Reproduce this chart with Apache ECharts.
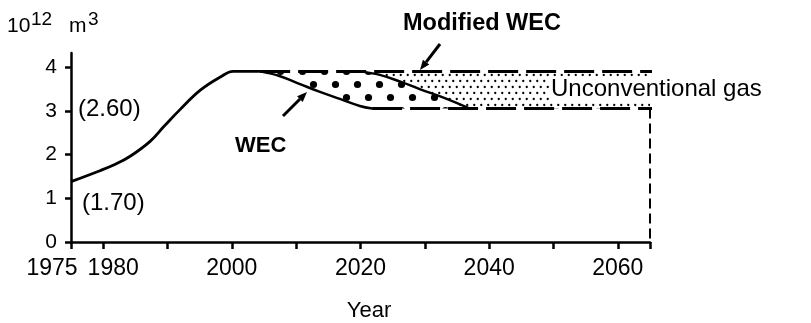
<!DOCTYPE html>
<html>
<head>
<meta charset="utf-8">
<script src="https://cdn.jsdelivr.net/npm/echarts@6/dist/echarts.min.js"></script>
<style>
html,body{margin:0;padding:0;background:#fff;}
#chart{width:811px;height:323px;}
</style>
</head>
<body>
<div id="chart"></div>
<script>
// ---- data ----
const mainYears = [1975, 1979.5, 1981.8, 1984.2, 1987.3, 1989.5, 1991.9, 1995.1, 1998.2, 2000.2, 2004.4];
const mainGas   = [1.38, 1.63, 1.77, 1.96, 2.30, 2.65, 3.02, 3.47, 3.77, 3.90, 3.90];
const wecYears  = [2004.4, 2007.5, 2010.6, 2013.7, 2016.8, 2019.9, 2021.8];
const wecGas    = [3.90, 3.79, 3.61, 3.43, 3.27, 3.11, 3.05];
const modYears  = [2019.9, 2023.0, 2026.1, 2029.3, 2033.1, 2037.0];
const modGas    = [3.90, 3.82, 3.67, 3.49, 3.29, 3.05];
const upperLevel = 3.90;
const lowerLevel = 3.05;
const endYear = 2065;
const lowerDashEnd = 2066;
const farYear = 2090;
const xTickValues  = [1975, 1980, 1990, 2000, 2010, 2020, 2030, 2040, 2050, 2060, 2065];
const xLabelValues = [2000, 2020, 2040, 2060];
const xLabelFirst  = [1975];
const xLabelSecond = [1980];
const yTickValues  = [0, 1, 2, 3, 4];

const zip = (xs, ys) => xs.map((x, i) => [x, ys[i]]);
const FONT = '"Liberation Sans", Arial, sans-serif';
const SMOOTH = 0.4;

function makePattern(w, h, dots, r) {
  const c = document.createElement('canvas');
  c.width = w; c.height = h;
  const ctx = c.getContext('2d');
  ctx.fillStyle = '#fff';
  ctx.fillRect(0, 0, w, h);
  ctx.fillStyle = '#000';
  dots.forEach(([x, y]) => { ctx.beginPath(); ctx.arc(x, y, r, 0, Math.PI * 2); ctx.fill(); });
  return c;
}
const bigDots = makePattern(22, 26, [[5.5, 6.5], [16.5, 19.5]], 3.6);
const smallDots = makePattern(7, 12, [[1.75, 3], [5.25, 9]], 1.15);

const mainData = zip(mainYears, mainGas);
const wecData = zip(wecYears, wecGas);
const modData = zip(modYears, modGas);
const smallArea = [[wecYears[0], upperLevel], [farYear, upperLevel]];
const bigArea = [[wecYears[0], upperLevel]].concat(modData, [[farYear, lowerLevel]]);
// white mask under the whole lower envelope (main curve, WEC, then the lower level)
const maskArea = mainData.concat(wecData.slice(1), [[farYear, lowerLevel]]);

const base = { type: 'line', symbol: 'none', silent: true, clip: false, animation: false };

const labelAxis = (values, formatter, rich) => ({
  type: 'value', min: 1975, max: endYear, position: 'bottom', offset: 0, z: 10,
  axisLine: { show: false }, axisTick: { show: false }, splitLine: { show: false },
  axisLabel: {
    customValues: values, color: '#000', fontSize: 23, fontFamily: FONT, margin: 15,
    showMinLabel: true, showMaxLabel: true, formatter: formatter, rich: rich
  }
});

const chart = echarts.init(document.getElementById('chart'));
chart.setOption({
  animation: false,
  grid: { left: 71, right: 161, top: 53, bottom: 81 },
  xAxis: [
    {
      type: 'value', min: 1975, max: endYear, z: 10,
      axisLine: { show: true, lineStyle: { color: '#000', width: 2.5 } },
      axisTick: { show: true, customValues: xTickValues, length: 7, lineStyle: { color: '#000', width: 2.5 } },
      splitLine: { show: false },
      axisLabel: { customValues: xLabelValues, color: '#000', fontSize: 23, fontFamily: FONT, margin: 15,
        formatter: v => String(v) }
    },
    labelAxis(xLabelFirst, v => '{t|' + v + '}{gap|}', {
      t: { fontSize: 23, fontFamily: FONT, color: '#000' }, gap: { width: 38, fontSize: 23 } }),
    labelAxis(xLabelSecond, v => '{gap|}{t|' + v + '}', {
      t: { fontSize: 23, fontFamily: FONT, color: '#000' }, gap: { width: 20, fontSize: 23 } })
  ],
  yAxis: {
    type: 'value', min: 0, max: 4.32, z: 10,
    axisLine: { show: true, lineStyle: { color: '#000', width: 2.5 } },
    axisTick: { show: true, customValues: yTickValues, length: 6, lineStyle: { color: '#000', width: 2.5 } },
    splitLine: { show: false },
    axisLabel: { customValues: yTickValues, color: '#000', fontSize: 21, fontFamily: FONT, margin: 14, showMinLabel: true }
  },
  series: [
    Object.assign({}, base, { name: 'Unconventional gas', data: smallArea, z: 1,
      lineStyle: { width: 0 }, areaStyle: { color: { image: smallDots, repeat: 'repeat' }, opacity: 1 } }),
    Object.assign({}, base, { name: 'WEC-Modified gap', data: bigArea, z: 2, smooth: SMOOTH,
      lineStyle: { width: 0 }, areaStyle: { color: { image: bigDots, repeat: 'repeat' }, opacity: 1 } }),
    Object.assign({}, base, { name: 'mask', data: maskArea, z: 3, smooth: SMOOTH,
      lineStyle: { width: 0 }, areaStyle: { color: '#fff', opacity: 1 } }),
    Object.assign({}, base, { name: 'upper', data: smallArea, z: 5,
      lineStyle: { color: '#000', width: 3, type: [30, 8] } }),
    Object.assign({}, base, { name: 'lower', data: [[wecYears[wecYears.length - 1], lowerLevel], [lowerDashEnd, lowerLevel]], z: 5,
      lineStyle: { color: '#000', width: 3, type: [30, 8] } }),
    Object.assign({}, base, { name: 'end', data: [[endYear, lowerLevel], [endYear, 0]], z: 5,
      lineStyle: { color: '#000', width: 2, type: [10, 5] } }),
    Object.assign({}, base, { name: 'Gas', data: mainData, z: 6, smooth: SMOOTH,
      lineStyle: { color: '#000', width: 2.8 } }),
    Object.assign({}, base, { name: 'WEC', data: wecData, z: 6, smooth: SMOOTH,
      lineStyle: { color: '#000', width: 2.5 } }),
    Object.assign({}, base, { name: 'Modified WEC', data: modData, z: 6, smooth: SMOOTH,
      lineStyle: { color: '#000', width: 2.5 } })
  ],
  graphic: [
    { type: 'text', x: 7, y: 26.5, z: 100, style: { text: '10', fontSize: 21, fontFamily: FONT, fill: '#000', verticalAlign: 'middle' } },
    { type: 'text', x: 31, y: 19.5, z: 100, style: { text: '12', fontSize: 19, fontFamily: FONT, fill: '#000', verticalAlign: 'middle' } },
    { type: 'text', x: 69, y: 26.5, z: 100, style: { text: 'm', fontSize: 21, fontFamily: FONT, fill: '#000', verticalAlign: 'middle' } },
    { type: 'text', x: 88, y: 19.5, z: 100, style: { text: '3', fontSize: 19, fontFamily: FONT, fill: '#000', verticalAlign: 'middle' } },
    { type: 'text', x: 78, y: 109.5, z: 100, style: { text: '(2.60)', fontSize: 24, fontFamily: FONT, fill: '#000', verticalAlign: 'middle' } },
    { type: 'text', x: 82, y: 203, z: 100, style: { text: '(1.70)', fontSize: 24, fontFamily: FONT, fill: '#000', verticalAlign: 'middle' } },
    { type: 'text', x: 235, y: 146, z: 100, style: { text: 'WEC', fontSize: 22, fontWeight: 'bold', fontFamily: FONT, fill: '#000', verticalAlign: 'middle' } },
    { type: 'text', x: 403, y: 23.5, z: 100, style: { text: 'Modified WEC', fontSize: 23.5, fontWeight: 'bold', fontFamily: FONT, fill: '#000', verticalAlign: 'middle' } },
    { type: 'text', x: 549, y: 89.5, z: 100, style: { text: 'Unconventional gas', fontSize: 24, fontFamily: FONT, fill: '#000', verticalAlign: 'middle', backgroundColor: '#fff', padding: [1, 2, 1, 2] } },
    { type: 'text', x: 369, y: 311, z: 100, style: { text: 'Year', fontSize: 22, fontFamily: FONT, fill: '#000', align: 'center', verticalAlign: 'middle' } },
    // arrows
    { type: 'polyline', z: 100, shape: { points: [[283, 116], [300, 99]] }, style: { stroke: '#000', lineWidth: 3 } },
    { type: 'polygon', z: 100, shape: { points: [[307, 92], [302.7, 101.9], [297.1, 96.3]] }, style: { fill: '#000' } },
    { type: 'polyline', z: 100, shape: { points: [[440, 44], [426.1, 62.1]] }, style: { stroke: '#000', lineWidth: 3 } },
    { type: 'polygon', z: 100, shape: { points: [[420, 70], [429.3, 64.5], [422.9, 59.7]] }, style: { fill: '#000' } }
  ]
});
</script>
</body>
</html>
